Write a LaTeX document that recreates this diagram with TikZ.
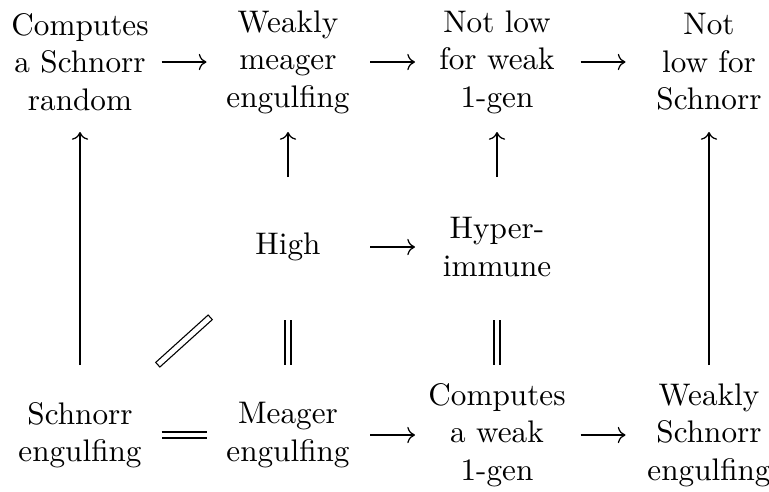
\documentclass[tikz,border=0pt]{standalone}
\usetikzlibrary{arrows.meta}
\begin{document}
\begin{tikzpicture}[x=0.3205pt,y=-0.3205pt,
  lbl/.style={align=center, inner sep=0pt},
  arr/.style={line width=0.4pt, -{Computer Modern Rightarrow}},
  eq/.style={double, double distance=1.54pt, line width=0.4pt},
  hs/.style={shorten <=#1, shorten >=#1}]
\useasboundingbox (0,0) rectangle (769,491);
% top row
\node[lbl] (csr) at (80,62) {Computes\\a Schnorr\\random};
\node[lbl] (wme) at (288,62) {Weakly\\meager\\engulfing};
\node[lbl] (nlw) at (497,62) {Not low\\for weak\\1-gen};
\node[lbl] (nls) at (709,62) {Not\\low for\\Schnorr};
% middle row
\node[lbl] (high) at (288,247) {High};
\node[lbl] (hyp) at (497,247) {Hyper-\\immune};
% bottom row
\node[lbl] (se) at (80,435) {Schnorr\\engulfing};
\node[lbl] (me) at (288,435) {Meager\\engulfing};
\node[lbl] (cwg) at (497,435) {Computes\\a weak\\1-gen};
\node[lbl] (wse) at (709,435) {Weakly\\Schnorr\\engulfing};
% horizontal arrows
\draw[arr, hs=26.12pt] (csr.center) -- (wme.center);
\draw[arr, hs=26.28pt] (wme.center) -- (nlw.center);
\draw[arr, hs=26.76pt] (nlw.center) -- (nls.center);
\draw[arr, hs=26.28pt] (high.center) -- (hyp.center);
\draw[arr, hs=26.28pt] (me.center) -- (cwg.center);
\draw[arr, hs=26.76pt] (cwg.center) -- (wse.center);
\draw[eq, hs=26.12pt] (se.center) -- (me.center);
% vertical arrows
\draw[arr, hs=22.44pt] (se.center) -- (csr.center);
\draw[arr, hs=22.44pt] (high.center) -- (wme.center);
\draw[arr, hs=22.44pt] (hyp.center) -- (nlw.center);
\draw[arr, hs=22.44pt] (wse.center) -- (nls.center);
% vertical equalities
\draw[eq, shorten <=22.6pt, shorten >=23.24pt] (me.center) -- (high.center);
\draw[eq, shorten <=22.6pt, shorten >=23.24pt] (cwg.center) -- (hyp.center);
% diagonal equality
\draw[eq, line cap=rect, hs=34.6pt] (se.center) -- (high.center);
\end{tikzpicture}
\end{document}
